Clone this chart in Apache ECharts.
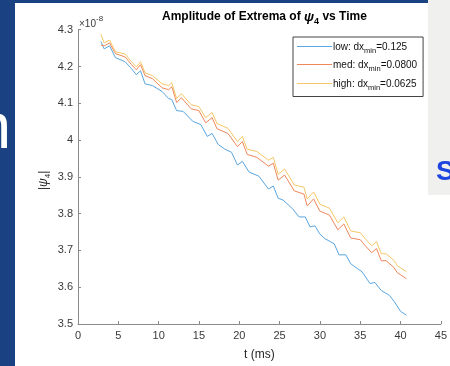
<!DOCTYPE html>
<html><head><meta charset="utf-8">
<script src="https://cdn.jsdelivr.net/npm/echarts@6/dist/echarts.min.js"></script>
<style>html,body{margin:0;padding:0;background:#fff}#c{width:450px;height:366px}</style>
</head><body><div id="c"></div>
<script>
// time (ms) samples and |psi_4| amplitudes (x 1e-8)
const tHigh = [2.84,3.24,3.92,4.64,5.84,6.63,7.23,7.76,8.31,9.23,10.43,11.24,11.63,12.23,12.83,14.03,14.99,15.83,16.63,17.23,18.59,19.78,20.38,20.98,22.18,23.62,24.22,24.82,25.62,26.82,28.02,28.42,29.22,29.98,31.18,32.22,32.97,33.81,35.01,35.61,36.41,37.01,37.61,38.21,39.21,39.57,40.73];
const vHigh = [4.288,4.264,4.272,4.240,4.234,4.213,4.199,4.213,4.183,4.175,4.153,4.148,4.156,4.113,4.126,4.096,4.091,4.061,4.075,4.045,4.032,3.996,4.010,3.975,3.969,3.945,3.953,3.907,3.921,3.878,3.872,3.840,3.859,3.826,3.815,3.775,3.791,3.753,3.748,3.732,3.713,3.724,3.691,3.691,3.672,3.659,3.642];
const vMed = [4.258,4.256,4.264,4.235,4.226,4.205,4.191,4.205,4.175,4.167,4.142,4.137,4.145,4.102,4.115,4.085,4.080,4.047,4.061,4.031,4.018,3.982,3.996,3.961,3.953,3.929,3.937,3.891,3.905,3.862,3.853,3.821,3.840,3.807,3.796,3.756,3.772,3.734,3.729,3.713,3.694,3.705,3.672,3.672,3.653,3.640,3.623];
const tLow = [2.84,3.24,3.92,4.64,5.84,6.63,7.23,7.76,8.31,9.23,10.43,11.24,11.63,12.23,13.03,14.23,15.23,16.03,16.63,17.39,18.23,19.03,19.78,20.38,21.22,22.42,23.62,24.22,24.82,25.42,26.62,27.42,28.18,28.78,29.38,29.98,30.61,31.77,32.37,33.21,33.81,34.62,35.22,36.21,36.81,37.61,38.61,39.21,40.01,40.73];
const vLow = [4.268,4.248,4.256,4.224,4.213,4.194,4.178,4.188,4.153,4.148,4.132,4.113,4.110,4.080,4.078,4.051,4.042,4.010,4.018,3.988,3.975,3.967,3.932,3.942,3.913,3.902,3.867,3.875,3.842,3.837,3.813,3.791,3.791,3.764,3.767,3.745,3.732,3.718,3.688,3.688,3.664,3.651,3.642,3.610,3.613,3.591,3.578,3.561,3.534,3.524];
const seriesNames = ['low', 'med', 'high'];
const seriesDx = ['0.125', '0.0800', '0.0625'];
const colors = ['#5aa6e0', '#ef875c', '#f6c766'];

const FONT = '"Liberation Sans", Arial, Helvetica, sans-serif';
const zip = (t, v) => t.map((x, i) => [x, v[i]]);
const dxLookup = {};
seriesNames.forEach((n, i) => dxLookup[n] = seriesDx[i]);

const keyRows = [46.5, 64.5, 83.5];
const legendKeys = colors.map((c, i) => ({
  type: 'line', z: 120,
  shape: {x1: 297, y1: keyRows[i], x2: 332, y2: keyRows[i]},
  style: {stroke: c, lineWidth: 1}
}));

const chart = echarts.init(document.getElementById('c'), null, {renderer: 'canvas'});
chart.setOption({
  animation: false,
  backgroundColor: '#ffffff',
  color: colors,
  title: {
    text: '{b|Amplitude of Extrema of }{p|ψ}{s|4}{b| vs Time}',
    left: 157, top: 3,
    textStyle: {
      rich: {
        b: {fontFamily: FONT, fontWeight: 'bold', fontSize: 12, color: '#000', lineHeight: 18, verticalAlign: 'middle'},
        p: {fontFamily: FONT, fontStyle: 'italic', fontSize: 13, color: '#000', lineHeight: 18, verticalAlign: 'middle'},
        s: {fontFamily: FONT, fontWeight: 'bold', fontSize: 9, color: '#000', lineHeight: 9, verticalAlign: 'bottom'}
      }
    }
  },
  legend: {
    orient: 'vertical',
    left: 293, top: 37,
    padding: [5, 6, 5, 4],
    itemGap: 6,
    itemWidth: 35, itemHeight: 2,
    icon: 'rect',
    borderColor: '#444', borderWidth: 1,
    backgroundColor: '#fff',
    data: seriesNames.map(n => ({name: n, itemStyle: {opacity: 0}})),
    formatter: n => '{n|' + n + ': dx}{s|min}{n|=' + dxLookup[n] + '}',
    textStyle: {
      padding: [0, 0, 0, -4],
      rich: {
        n: {fontFamily: FONT, fontSize: 10, color: '#111', lineHeight: 15, verticalAlign: 'middle'},
        s: {fontFamily: FONT, fontSize: 7.5, color: '#111', lineHeight: 8, verticalAlign: 'bottom'}
      }
    }
  },
  grid: {left: 78, top: 29.7, right: -3, bottom: 40.3, containLabel: false},
  xAxis: {
    type: 'value', min: 0, max: 45, interval: 5,
    name: 't (ms)', nameLocation: 'middle', nameGap: 25,
    nameTextStyle: {fontFamily: FONT, fontSize: 12, color: '#262626'},
    axisLine: {lineStyle: {color: '#8a8a8a', width: 1}},
    axisTick: {inside: true, length: 3, lineStyle: {color: '#8a8a8a'}},
    axisLabel: {fontFamily: FONT, fontSize: 11, color: '#3a3a3a', margin: 6},
    splitLine: {show: false}
  },
  yAxis: {
    type: 'value', min: 3.5, max: 4.3, interval: 0.1,
    axisLine: {show: true, lineStyle: {color: '#8a8a8a', width: 1}},
    axisTick: {show: true, inside: true, length: 3, lineStyle: {color: '#8a8a8a'}},
    axisLabel: {fontFamily: FONT, fontSize: 11, color: '#3a3a3a', margin: 5,
      formatter: v => String(Math.round(v * 10) / 10)},
    splitLine: {show: false}
  },
  series: [
    {name: 'low', type: 'line', data: zip(tLow, vLow), showSymbol: false, symbol: 'none', lineStyle: {width: 1}, z: 3},
    {name: 'med', type: 'line', data: zip(tHigh, vMed), showSymbol: false, symbol: 'none', lineStyle: {width: 1}, z: 4},
    {name: 'high', type: 'line', data: zip(tHigh, vHigh), showSymbol: false, symbol: 'none', lineStyle: {width: 1}, z: 5}
  ],
  graphic: legendKeys.concat([
    {type: 'rect', left: 0, top: 0, shape: {width: 15, height: 366}, style: {fill: '#1a4282'}, z: 100},
    {type: 'rect', left: 15, top: 0, shape: {width: 413, height: 3}, style: {fill: '#1a4282'}, z: 100},
    {type: 'text', x: 11, y: 98, style: {text: 'n', fill: '#ffffff', font: '64px ' + FONT, textAlign: 'right'}, z: 101},
    {type: 'rect', left: 428, top: 0, shape: {width: 22, height: 195}, style: {fill: '#f0f0ef'}, z: 100},
    {type: 'text', x: 436, y: 158, style: {text: 'S', fill: '#1e44e0', font: 'bold 28px ' + FONT}, z: 101},
    {type: 'text', x: 79, y: 15, z: 50, style: {
      text: '{a|×10}{e|-8}', rich: {
        a: {fontFamily: FONT, fontSize: 10, fill: '#3a3a3a', lineHeight: 14, verticalAlign: 'bottom'},
        e: {fontFamily: FONT, fontSize: 8, fill: '#3a3a3a', lineHeight: 8, verticalAlign: 'top'}
      }}},
    {type: 'text', x: 36, y: 190, rotation: Math.PI / 2, z: 50, style: {
      text: '{a||}{p|ψ}{s|4}{a||}', rich: {
        a: {fontFamily: FONT, fontSize: 12, fill: '#262626', lineHeight: 16, verticalAlign: 'middle'},
        p: {fontFamily: FONT, fontStyle: 'italic', fontSize: 12, fill: '#262626', lineHeight: 16, verticalAlign: 'middle'},
        s: {fontFamily: FONT, fontSize: 8, fill: '#262626', lineHeight: 8, verticalAlign: 'bottom'}
      }}}
  ])
});
</script></body></html>
